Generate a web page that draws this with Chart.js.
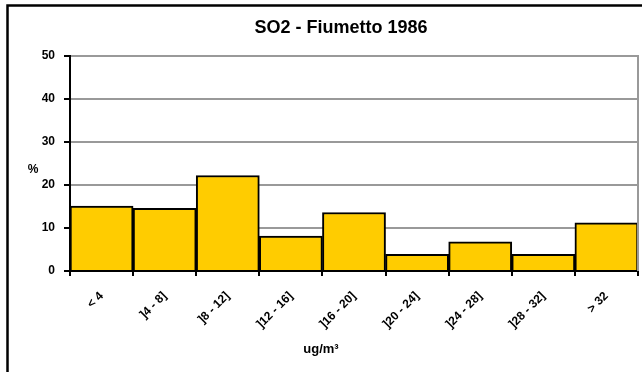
<!DOCTYPE html>
<html>
<head>
<meta charset="utf-8">
<script src="https://cdn.jsdelivr.net/npm/chart.js@4/dist/chart.umd.min.js"></script>
<style>
  html, body { margin: 0; padding: 0; background: #fff; }
  #wrap { width: 642px; height: 372px; }
</style>
</head>
<body>
<div id="wrap"><canvas id="so2Chart" width="642" height="372"></canvas></div>
<script>
// data
const categories = ['< 4', ']4 - 8]', ']8 - 12]', ']12 - 16]', ']16 - 20]', ']20 - 24]', ']24 - 28]', ']28 - 32]', '> 32'];
const percentValues = [15.1, 14.6, 22.2, 8.1, 13.6, 3.9, 6.8, 3.9, 11.2];
const yMin = 0;
const yMax = 50;
const yStep = 10;

const titleText = 'SO2 - Fiumetto 1986';
const xTitleText = 'ug/m³';
const yTitleText = '%';

const fontFamily = '"Liberation Sans", Arial, sans-serif';

// frame, title and axis titles drawn on the canvas
const decorPlugin = {
    id: 'decor',
    beforeDraw(chart) {
        const c = chart.ctx;
        c.save();
        c.fillStyle = '#fff';
        c.fillRect(0, 0, chart.width, chart.height);
        c.strokeStyle = '#000';
        c.lineWidth = 2.5;
        c.beginPath();
        c.moveTo(7.5, chart.height + 2);
        c.lineTo(7.5, 5.5);
        c.lineTo(chart.width + 2, 5.5);
        c.stroke();
        c.restore();
    },
    afterDraw(chart) {
        const c = chart.ctx;
        const area = chart.chartArea;
        c.save();
        // right edge of the plot
        c.strokeStyle = '#999';
        c.lineWidth = 2;
        c.beginPath();
        c.moveTo(area.right, area.top - 1);
        c.lineTo(area.right, area.bottom);
        c.stroke();

        c.fillStyle = '#000';
        c.textAlign = 'center';
        c.textBaseline = 'middle';
        c.font = 'bold 18px ' + fontFamily;
        c.fillText(titleText, 341, 28);

        c.font = 'bold 12px ' + fontFamily;
        c.fillText(yTitleText, 33, 170);
        c.font = 'bold 13px ' + fontFamily;
        c.fillText(xTitleText, 321, 349);
        c.restore();
    }
};

const ctx = document.getElementById('so2Chart').getContext('2d');
const so2Chart = new Chart(ctx, {
    type: 'bar',
    data: {
        labels: categories,
        datasets: [{
            label: 'SO2',
            data: percentValues,
            backgroundColor: '#FFCC00',
            borderColor: '#000',
            borderWidth: 2,
            categoryPercentage: 1.0,
            barPercentage: 1.0
        }]
    },
    options: {
        responsive: false,
        animation: false,
        layout: {
            padding: { left: 0, top: 56, right: 4, bottom: 0 }
        },
        plugins: {
            legend: { display: false },
            title: { display: false },
            tooltip: { enabled: false }
        },
        scales: {
            x: {
                afterFit(scale) { scale.height = 101; },
                grid: {
                    offset: true,
                    drawOnChartArea: false,
                    color: '#000',
                    tickLength: 5,
                    lineWidth: 2
                },
                border: { display: true, color: '#000', width: 2 },
                ticks: {
                    minRotation: 45,
                    maxRotation: 45,
                    padding: 13,
                    color: '#000',
                    font: { family: fontFamily, size: 12, weight: 'bold' }
                }
            },
            y: {
                min: yMin,
                max: yMax,
                afterFit(scale) { scale.width = 70; },
                grid: {
                    color: (c) => c.tick && c.tick.value === 0 ? '#000' : '#999',
                    lineWidth: 2,
                    tickColor: '#000',
                    tickLength: 6,
                    tickWidth: 2
                },
                border: { display: true, color: '#000', width: 2 },
                ticks: {
                    stepSize: yStep,
                    padding: 9,
                    color: '#000',
                    font: { family: fontFamily, size: 12, weight: 'bold' }
                }
            }
        }
    },
    plugins: [decorPlugin]
});
</script>
</body>
</html>
